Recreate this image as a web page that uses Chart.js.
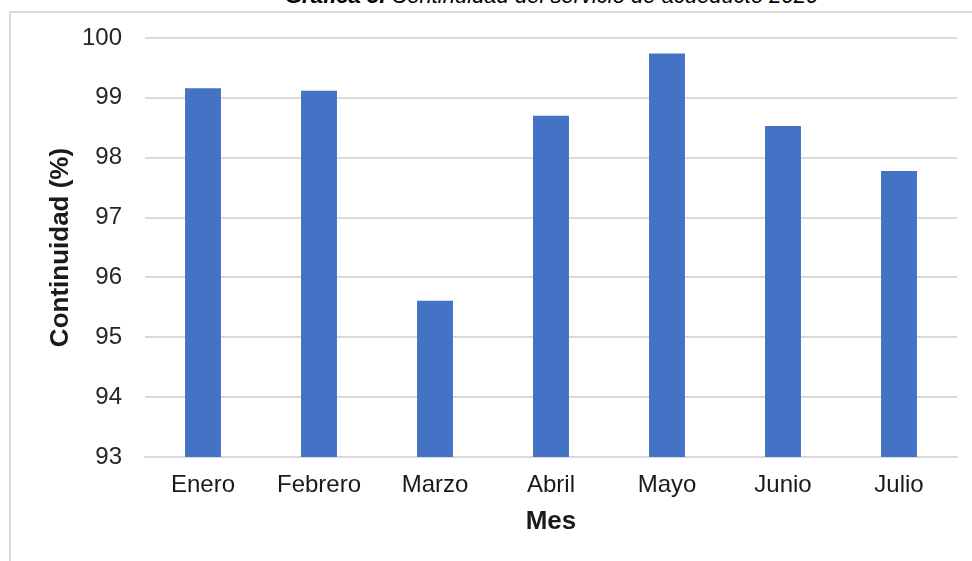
<!DOCTYPE html>
<html lang="es">
<head>
    <meta charset="UTF-8">
    <title>Continuidad del servicio de acueducto 2020</title>
    <script src="https://cdn.jsdelivr.net/npm/chart.js"></script>
    <style>
        body{margin:0;padding:0;background:#fff;font-family:'Liberation Sans',Arial,sans-serif;overflow:hidden}
        .wrap{position:relative;width:972px;height:561px;overflow:hidden}
        .frame{position:absolute;left:9px;top:11px;width:1000px;height:600px;border:2px solid #d9d9d9;box-sizing:border-box}
        .caption{position:absolute;left:285px;top:-17px;font-size:22px;font-style:italic;white-space:nowrap;color:#000}
        canvas{position:absolute;left:0;top:0}
    </style>
</head>
<body>
    <div class="wrap">
        <div class="caption"><b>Gráfica 5.</b> Continuidad del servicio de acueducto 2020</div>
        <div class="frame"></div>
        <canvas id="chart" width="972" height="561"></canvas>
    </div>
    <script>
        // datos
        const meses = ['Enero', 'Febrero', 'Marzo', 'Abril', 'Mayo', 'Junio', 'Julio'];
        const continuidad = [99.16, 99.12, 95.61, 98.70, 99.74, 98.53, 97.78];
        const yMin = 93, yMax = 100, yStep = 1;

        const gridColor = '#d9d9d9';

        new Chart(document.getElementById('chart'), {
            type: 'bar',
            data: {
                labels: meses,
                datasets: [{
                    label: 'Continuidad (%)',
                    data: continuidad,
                    backgroundColor: '#4472c4',
                    borderWidth: 0,
                    barPercentage: 0.31,
                    categoryPercentage: 1
                }]
            },
            options: {
                responsive: false,
                animation: false,
                layout: {padding: {top: 38, right: 15, left: 0, bottom: 0}},
                plugins: {legend: {display: false}, tooltip: {enabled: false}},
                scales: {
                    x: {
                        afterFit: s => { s.height = 104; },
                        grid: {display: false, drawTicks: false},
                        border: {display: true, color: gridColor, width: 2},
                        ticks: {padding: 14, color: '#1a1a1a', font: {family: 'Liberation Sans', size: 24}},
                        title: {display: true, text: 'Mes', color: '#1a1a1a', padding: {top: 0, bottom: 24},
                            font: {family: 'Liberation Sans', size: 26, weight: 'bold'}}
                    },
                    y: {
                        min: yMin, max: yMax,
                        afterFit: s => { s.width = 145; },
                        grid: {color: gridColor, lineWidth: 2, drawTicks: false},
                        border: {display: false},
                        ticks: {stepSize: yStep, padding: 23, color: '#262626', font: {family: 'Liberation Sans', size: 24}},
                        title: {display: true, text: 'Continuidad (%)', color: '#1a1a1a', padding: {top: 45, bottom: 0},
                            font: {family: 'Liberation Sans', size: 26, weight: 'bold'}}
                    }
                }
            }
        });
    </script>
</body>
</html>
